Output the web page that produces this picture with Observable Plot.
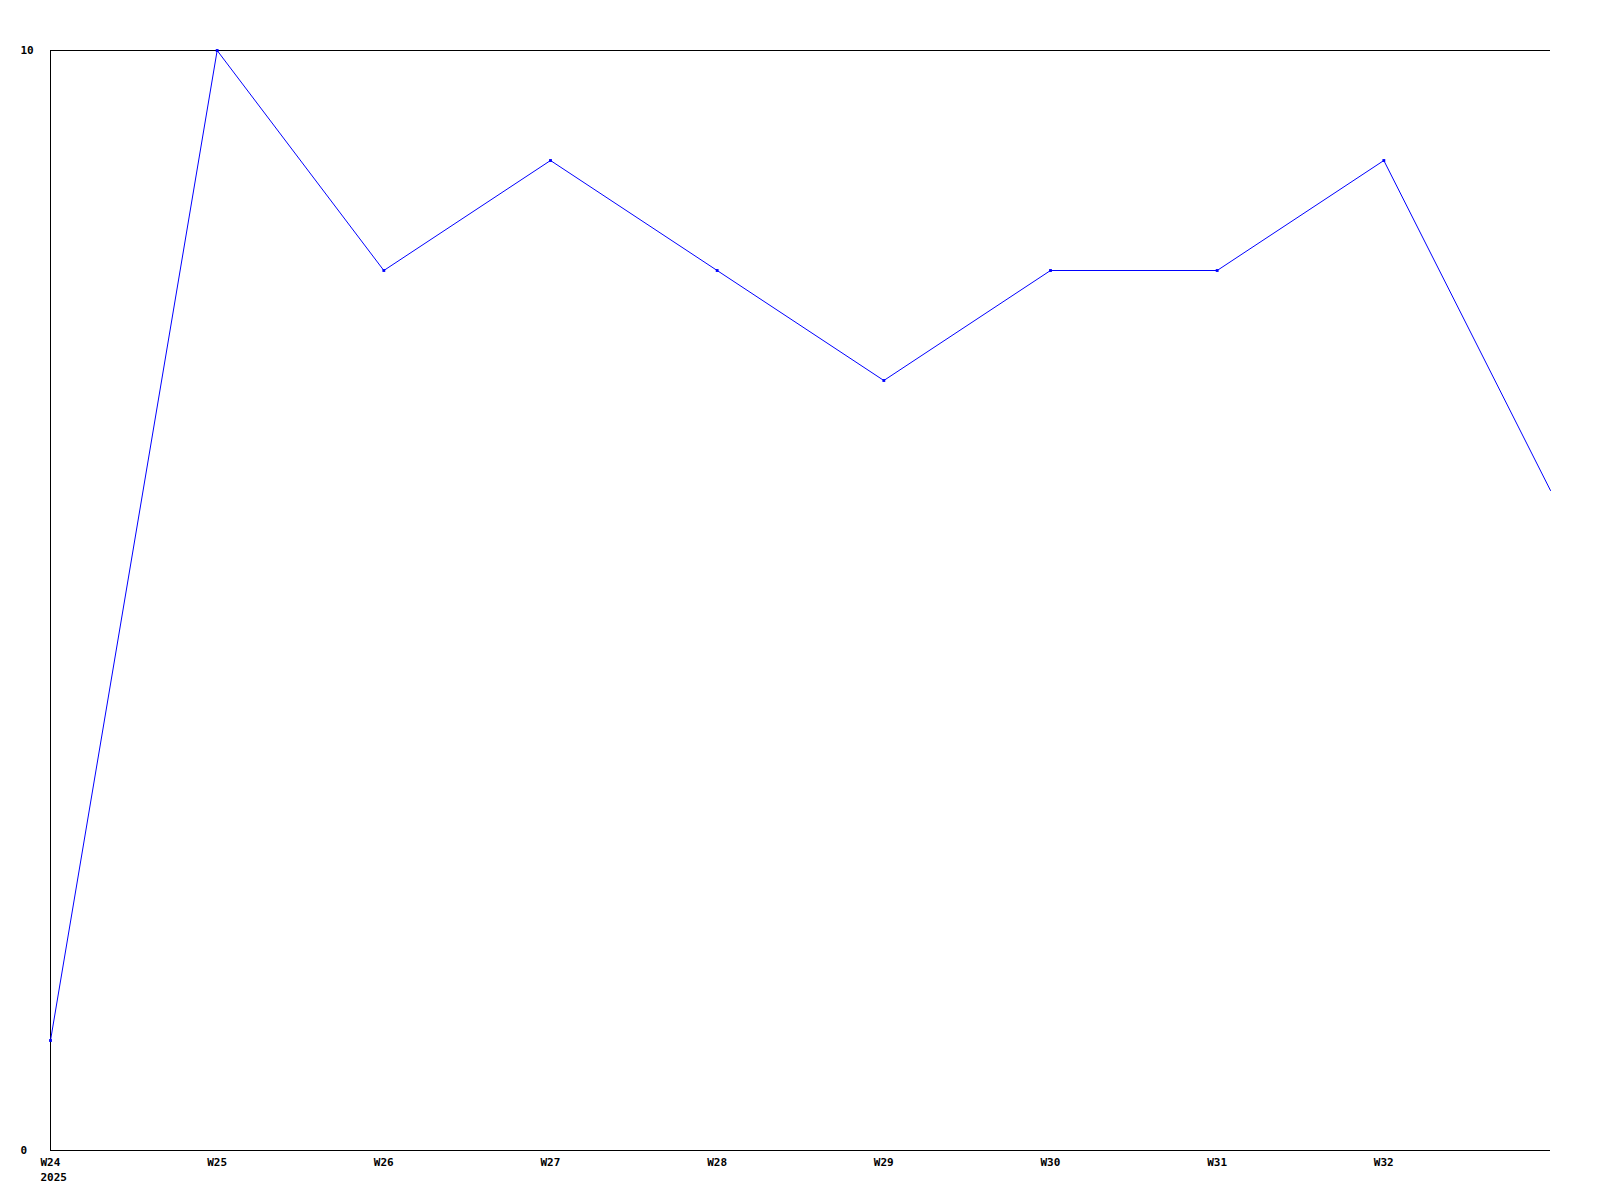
<!DOCTYPE html>
<html>
<head>
<meta charset="utf-8">
<script src="https://cdn.jsdelivr.net/npm/d3@7"></script>
<script src="https://cdn.jsdelivr.net/npm/@observablehq/plot@0.6"></script>
<style>
  html, body { margin: 0; padding: 0; background: #fff; }
</style>
</head>
<body>
<div id="chart"></div>
<script>
const weekNums = [24, 25, 26, 27, 28, 29, 30, 31, 32, 33];
const values = [1, 10, 8, 9, 8, 7, 8, 8, 9, 6];
const xTickWeeks = [24, 25, 26, 27, 28, 29, 30, 31, 32];
const yTicks = [0, 10];
const year = "2025";

const data = weekNums.map((w, i) => ({ w, v: values[i] }));
const dotData = data.slice(0, data.length - 1);

const chart = Plot.plot({
  width: 1600,
  height: 1200,
  marginLeft: 50,
  marginRight: 50,
  marginTop: 50,
  marginBottom: 50,
  style: { fontFamily: "'DejaVu Sans Mono', 'Liberation Mono', monospace", fontSize: "11px", fontWeight: "bold", background: "#fff", color: "#000" },
  x: { type: "linear", domain: [24, 33] },
  y: { domain: [0, 10] },
  marks: [
    Plot.ruleX([24], { stroke: "#000", strokeWidth: 1 }),
    Plot.ruleY([0, 10], { stroke: "#000", strokeWidth: 1 }),
    Plot.axisX({
      ticks: xTickWeeks,
      tickSize: 0,
      tickPadding: 5,
      textAnchor: "start",
      dx: -10,
      lineHeight: 1.35,
      fontWeight: "bold",
      fill: "#000",
      tickFormat: (d) => d === 24 ? `W${d}\n${year}` : `W${d}`,
      label: null
    }),
    Plot.axisY({
      ticks: yTicks,
      tickSize: 0,
      tickPadding: 30,
      textAnchor: "start",
      fontWeight: "bold",
      fill: "#000",
      tickFormat: (d) => String(d),
      label: null
    }),
    Plot.line(data, { x: "w", y: "v", stroke: "#0000ff", strokeWidth: 1 }),
    Plot.dot(dotData, { x: "w", y: "v", symbol: "square", r: 1.6, fill: "#0000ff", stroke: "none" })
  ]
});
document.getElementById("chart").appendChild(chart);
</script>
</body>
</html>
